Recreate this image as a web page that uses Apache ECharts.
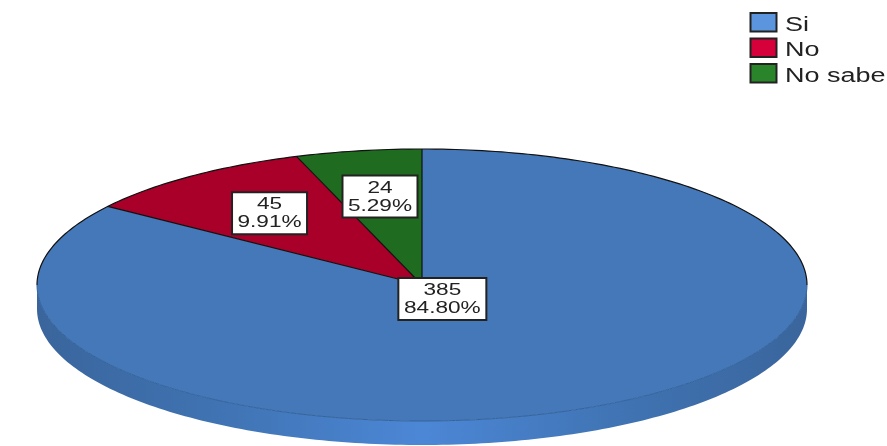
<!DOCTYPE html>
<html>
<head>
<meta charset="utf-8">
<style>
  html, body { margin: 0; padding: 0; background: #fff; }
  #chart { width: 887px; height: 446px; }
</style>
<script src="https://cdn.jsdelivr.net/npm/echarts@6/dist/echarts.min.js"></script>
</head>
<body>
<div id="chart"></div>
<script>
const categories = ['Si', 'No', 'No sabe']
const counts = [385, 45, 24]
const percents = ['84.80%', '9.91%', '5.29%']
const sliceColors = ['#4578b8', '#a80028', '#1f6b1f']
const legendColors = ['#5b95de', '#d6003a', '#2a842a']

const total = counts.reduce((a, b) => a + b, 0)
const DEPTH = 24 / 136
const TEXT_STRETCH = 1.33

// angle is clockwise from 12 o'clock, the y axis points up
const onEllipse = (api, deg, r, drop) => {
  const a = (deg * Math.PI) / 180
  return api.coord([r * Math.sin(a), r * Math.cos(a) - (drop || 0)])
}

const arcPoints = (api, from, to, r, drop) => {
  const pts = []
  const n = Math.max(2, Math.ceil(Math.abs(to - from)))
  for (let i = 0; i <= n; i++) {
    pts.push(onEllipse(api, from + ((to - from) * i) / n, r, drop))
  }
  return pts
}

const sliceRange = (idx) => {
  let start = 0
  for (let i = 0; i < idx; i++) start += (counts[i] / total) * 360
  return [start, start + (counts[idx] / total) * 360]
}

const renderSide = (params, api) => {
  const upper = arcPoints(api, 90, 270, 1, 0)
  const lower = arcPoints(api, 270, 90, 1, DEPTH)
  return {
    type: 'polygon',
    shape: { points: upper.concat(lower) },
    style: {
      fill: new echarts.graphic.LinearGradient(0, 0, 1, 0, [
        { offset: 0, color: '#3a659c' },
        { offset: 0.25, color: '#4074b4' },
        { offset: 0.5, color: '#4c87d6' },
        { offset: 0.75, color: '#4074b4' },
        { offset: 1, color: '#3a659c' },
      ]),
    },
  }
}

const renderSlice = (params, api) => {
  const idx = params.dataIndex
  const [start, end] = sliceRange(idx)
  const center = api.coord([0, 0])
  return {
    type: 'polygon',
    shape: { points: [center].concat(arcPoints(api, start, end, 1, 0)) },
    style: { fill: sliceColors[idx] },
  }
}

const renderEdges = (params, api) => {
  const center = api.coord([0, 0])
  const children = [
    {
      type: 'polyline',
      shape: { points: arcPoints(api, 90, 270, 1, 0) },
      style: { fill: 'none', stroke: '#34639c', lineWidth: 1 },
    },
    {
      type: 'polyline',
      shape: { points: arcPoints(api, -90, 90, 1, 0) },
      style: { fill: 'none', stroke: '#111', lineWidth: 1.2 },
    },
  ]
  categories.forEach((c, i) => {
    children.push({
      type: 'line',
      shape: {
        x1: center[0],
        y1: center[1],
        x2: onEllipse(api, sliceRange(i)[0], 1)[0],
        y2: onEllipse(api, sliceRange(i)[0], 1)[1],
      },
      style: { stroke: '#111', lineWidth: 1.2 },
    })
  })
  return { type: 'group', children }
}

const renderLabel = (params, api) => {
  const idx = params.dataIndex
  const [start, end] = sliceRange(idx)
  // big slice keeps its label near the middle, as SPSS does
  const radius = counts[idx] / total > 0.5 ? 0.115 : 0.66
  const p = onEllipse(api, (start + end) / 2, radius)
  const w = idx === 0 ? 88 : 75
  const h = 42
  const textEl = (text, dy) => ({
    type: 'text',
    x: 0,
    y: dy,
    scaleX: TEXT_STRETCH,
    style: {
      text,
      fill: '#222',
      font: '17px "Liberation Sans", Arial, sans-serif',
      textAlign: 'center',
      textVerticalAlign: 'middle',
    },
  })
  return {
    type: 'group',
    x: p[0],
    y: p[1],
    children: [
      {
        type: 'rect',
        shape: { x: -w / 2, y: -h / 2, width: w, height: h },
        style: { fill: '#fff', stroke: '#222', lineWidth: 2 },
      },
      textEl(String(counts[idx]), -8.5),
      textEl(percents[idx], 9.5),
    ],
  }
}

const legendGraphic = []
categories.forEach((c, i) => {
  const y = 13 + i * 25.5
  legendGraphic.push({
    type: 'rect',
    x: 750.5,
    y,
    shape: { width: 26, height: 18.5 },
    style: { fill: legendColors[i], stroke: '#222', lineWidth: 2 },
  })
  legendGraphic.push({
    type: 'text',
    x: 785,
    y: y + 12,
    scaleX: 1.35,
    style: {
      text: c,
      fill: '#222',
      font: '20px "Liberation Sans", Arial, sans-serif',
      textVerticalAlign: 'middle',
    },
  })
})

const chart = echarts.init(document.getElementById('chart'))
const seriesData = categories.map((c, i) => ({ name: c, value: counts[i] }))
const option = {
  backgroundColor: '#fff',
  animation: false,
  grid: { left: 37, top: 149, width: 770, height: 272 },
  xAxis: { type: 'value', min: -1, max: 1, show: false },
  yAxis: { type: 'value', min: -1, max: 1, show: false },
  graphic: legendGraphic,
  series: [
    { type: 'custom', coordinateSystem: 'cartesian2d', data: [total], renderItem: renderSide, z: 1 },
    { type: 'custom', coordinateSystem: 'cartesian2d', data: seriesData, renderItem: renderSlice, z: 2 },
    { type: 'custom', coordinateSystem: 'cartesian2d', data: [total], renderItem: renderEdges, z: 3 },
    { type: 'custom', coordinateSystem: 'cartesian2d', data: seriesData, renderItem: renderLabel, z: 4 },
  ],
}
chart.setOption(option)
</script>
</body>
</html>
